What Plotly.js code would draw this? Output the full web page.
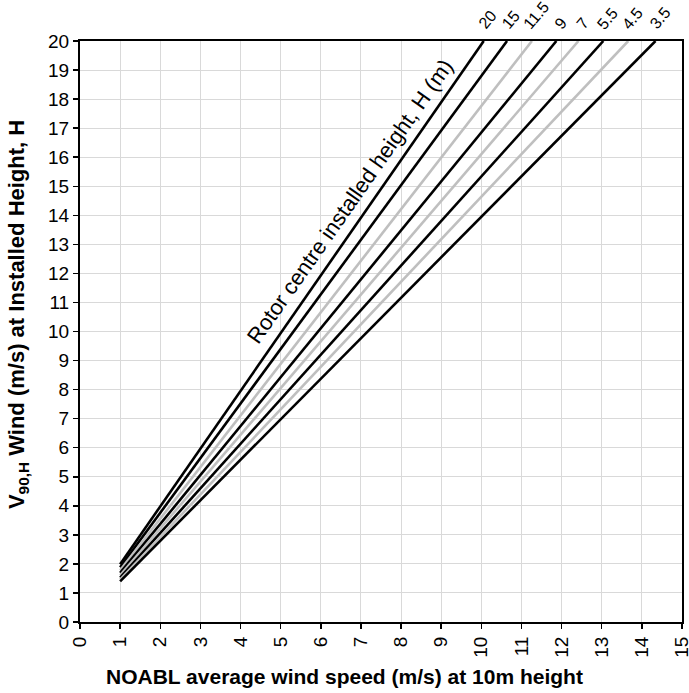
<!DOCTYPE html>
<html>
<head>
<meta charset="utf-8">
<script src="https://cdn.plot.ly/plotly-3.0.1.min.js"></script>
<style>html,body{margin:0;padding:0;background:#fff;}#chart{width:689px;height:693px;}</style>
</head>
<body>
<div id="chart"></div>
<script>
// Rotor centre installed height H (m)
const heights = ["20", "15", "11.5", "9", "7", "5.5", "4.5", "3.5"];
// NOABL speed at start of each line (m/s)
const startX = [1, 1, 1, 1, 1, 1, 1, 1];
// V90,H at the start of each line (m/s)
const startV = [1.99, 1.88, 1.78, 1.69, 1.61, 1.53, 1.46, 1.40];
// NOABL speed where each line reaches the top of the chart
const endX = [10.06, 10.64, 11.26, 11.87, 12.42, 13.04, 13.66, 14.34];
const endV = [20, 20, 20, 20, 20, 20, 20, 20];
const lineColors = ["#000000", "#000000", "#bfbfbf", "#000000", "#bfbfbf", "#000000", "#bfbfbf", "#000000"];
const xTicks = [0,1,2,3,4,5,6,7,8,9,10,11,12,13,14,15];
const yTicks = [0,1,2,3,4,5,6,7,8,9,10,11,12,13,14,15,16,17,18,19,20];
const xTitle = "<b>NOABL average wind speed (m/s) at 10m height</b>";
const yTitle = "<b>V<sub>90,H</sub> Wind (m/s) at Installed Height, H</b>";

const font = "Arial, 'Liberation Sans', sans-serif";

const traces = heights.map((h, i) => ({
  type: "scatter",
  mode: "lines",
  name: h,
  x: [startX[i], endX[i]],
  y: [startV[i], endV[i]],
  line: {color: lineColors[i], width: 2.6},
  showlegend: false,
  hoverinfo: "skip"
}));

const annotations = heights.map((h, i) => ({
  x: endX[i], y: endV[i], xref: "x", yref: "y",
  text: h, showarrow: false, textangle: -50,
  xanchor: "center", yanchor: "bottom", xshift: 4, yshift: 6,
  font: {family: font, size: 16, color: "#000"}
}));
annotations.push({
  x: 6.73, y: 14.46, xref: "x", yref: "y",
  text: "Rotor centre installed height, H (m)", showarrow: false,
  textangle: -55, xanchor: "center", yanchor: "middle",
  font: {family: font, size: 22, color: "#000"}
});
// axis titles (placed as in the reference, slightly off-centre)
annotations.push({
  x: 0.44, y: -0.094, xref: "paper", yref: "paper",
  text: xTitle, showarrow: false, xanchor: "center", yanchor: "middle",
  font: {family: font, size: 21, color: "#000"}
});
annotations.push({
  x: -0.103, y: 0.53, xref: "paper", yref: "paper",
  text: yTitle, showarrow: false, textangle: -90, xanchor: "center", yanchor: "middle",
  font: {family: font, size: 22, color: "#000"}
});

const layout = {
  width: 689, height: 693,
  margin: {l: 80, r: 7, t: 41, b: 71},
  paper_bgcolor: "#fff", plot_bgcolor: "#fff",
  font: {family: font, color: "#000"},
  xaxis: {
    range: [0, 15], tickvals: xTicks, ticktext: xTicks.map(String),
    tickangle: -90, tickfont: {family: font, size: 19, color: "#000"},
    ticklabeloverflow: "allow",
    ticks: "outside", ticklen: 5, tickcolor: "#000", tickwidth: 1.5,
    showline: true, linecolor: "#000", linewidth: 2, mirror: true,
    showgrid: true, gridcolor: "#d9d9d9", gridwidth: 1, zeroline: false
  },
  yaxis: {
    range: [0, 20], tickvals: yTicks, ticktext: yTicks.map(String),
    tickfont: {family: font, size: 19, color: "#000"},
    ticks: "outside", ticklen: 5, tickcolor: "#000", tickwidth: 1.5,
    showline: true, linecolor: "#000", linewidth: 2, mirror: true,
    showgrid: true, gridcolor: "#d9d9d9", gridwidth: 1, zeroline: false
  },
  annotations: annotations
};

Plotly.newPlot("chart", traces, layout, {staticPlot: true, displayModeBar: false});
</script>
</body>
</html>
